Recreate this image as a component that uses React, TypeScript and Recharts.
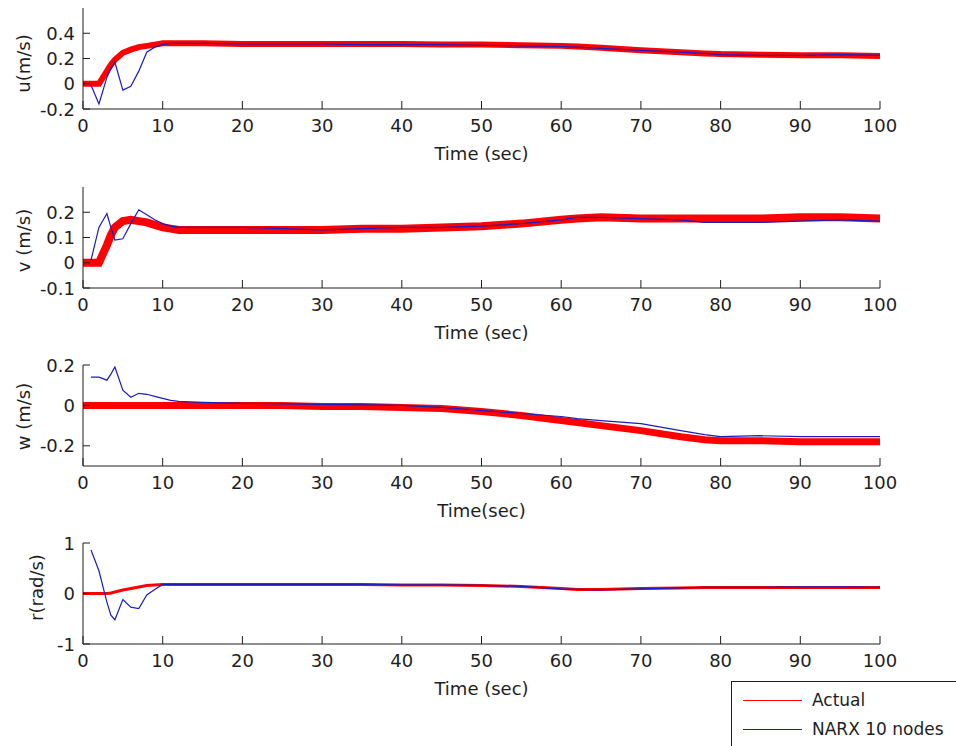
import { LineChart, Line, XAxis, YAxis, Legend, Label } from 'recharts';

// sample times (sec)
const TIME = [0, 1, 2, 3, 3.5, 4, 5, 6, 7, 8, 9, 10, 11, 12, 15, 20, 25, 30, 35, 40, 45, 50, 55, 60, 62, 65, 70, 75, 78, 80, 85, 90, 95, 100];

const U_ACTUAL = [0, 0, 0, 0.1, 0.15, 0.19, 0.245, 0.27, 0.29, 0.3, 0.31, 0.32, 0.32, 0.32, 0.32, 0.315, 0.315, 0.315, 0.315, 0.315, 0.31, 0.31, 0.305, 0.3, 0.295, 0.285, 0.265, 0.25, 0.24, 0.235, 0.23, 0.225, 0.225, 0.22];
const U_NARX = [null, -0.01, -0.16, 0.05, 0.12, 0.17, -0.05, -0.02, 0.1, 0.25, 0.29, 0.31, 0.32, 0.32, 0.32, 0.315, 0.315, 0.315, 0.31, 0.31, 0.31, 0.305, 0.3, 0.295, 0.29, 0.28, 0.265, 0.25, 0.24, 0.23, 0.225, 0.225, 0.23, 0.225];

const V_ACTUAL = [0, 0, 0, 0.07, 0.11, 0.14, 0.165, 0.17, 0.165, 0.16, 0.15, 0.14, 0.135, 0.13, 0.13, 0.13, 0.13, 0.13, 0.135, 0.135, 0.14, 0.145, 0.155, 0.17, 0.175, 0.18, 0.175, 0.175, 0.175, 0.175, 0.175, 0.18, 0.18, 0.175];
const V_NARX = [null, 0.01, 0.14, 0.195, 0.14, 0.09, 0.095, 0.155, 0.21, 0.19, 0.17, 0.155, 0.145, 0.14, 0.14, 0.14, 0.135, 0.13, 0.135, 0.14, 0.14, 0.145, 0.155, 0.17, 0.18, 0.18, 0.175, 0.17, 0.16, 0.16, 0.16, 0.165, 0.17, 0.165];

const W_ACTUAL = [0, 0, 0, 0, 0, 0, 0, 0, 0, 0, 0, 0, 0, 0, 0, 0, 0, -0.005, -0.005, -0.01, -0.015, -0.03, -0.05, -0.075, -0.085, -0.1, -0.125, -0.155, -0.17, -0.175, -0.175, -0.18, -0.18, -0.18];
const W_NARX = [null, 0.14, 0.14, 0.125, 0.155, 0.19, 0.075, 0.04, 0.06, 0.055, 0.045, 0.035, 0.025, 0.02, 0.015, 0.01, 0.008, 0.005, 0.003, 0, -0.01, -0.025, -0.04, -0.055, -0.065, -0.075, -0.09, -0.125, -0.145, -0.155, -0.15, -0.155, -0.155, -0.155];

const R_ACTUAL = [0, 0, 0, 0, 0.01, 0.03, 0.07, 0.1, 0.13, 0.16, 0.17, 0.18, 0.18, 0.18, 0.18, 0.18, 0.18, 0.18, 0.18, 0.17, 0.17, 0.16, 0.14, 0.1, 0.08, 0.08, 0.1, 0.11, 0.12, 0.12, 0.12, 0.12, 0.12, 0.12];
const R_NARX = [null, 0.86, 0.45, -0.17, -0.43, -0.52, -0.12, -0.27, -0.3, -0.03, 0.08, 0.18, 0.18, 0.18, 0.18, 0.18, 0.18, 0.18, 0.18, 0.17, 0.17, 0.16, 0.14, 0.09, 0.08, 0.07, 0.09, 0.11, 0.12, 0.12, 0.12, 0.13, 0.13, 0.12];

const X_TICKS = [0, 10, 20, 30, 40, 50, 60, 70, 80, 90, 100];
const U_TICKS = [-0.2, 0, 0.2, 0.4];
const V_TICKS = [-0.1, 0, 0.1, 0.2];
const W_TICKS = [-0.2, 0, 0.2];
const R_TICKS = [-1, 0, 1];

const FONT = '"DejaVu Sans", sans-serif';
const INK = '#1e1e1e';
const RED = '#ff0000';
const BLUE = '#1c1cc0';

const buildRows = (actual: (number | null)[], narx: (number | null)[]) =>
  TIME.map((t, i) => ({ t, actual: actual[i], narx: narx[i] }));

const XTick = (props: any) => {
  const { x, y, payload } = props;
  return (
    <g>
      <line x1={x} y1={y} x2={x} y2={y - 8} stroke={INK} strokeWidth={1} />
      <text x={x} y={y + 23} textAnchor="middle" fontFamily={FONT} fontSize={18} fill={INK}>
        {payload.value}
      </text>
    </g>
  );
};

const YTick = (props: any) => {
  const { x, y, payload } = props;
  return (
    <g>
      <line x1={x} y1={y} x2={x + 7} y2={y} stroke={INK} strokeWidth={1} />
      <text x={x - 8} y={y + 6.5} textAnchor="end" fontFamily={FONT} fontSize={18} fill={INK}>
        {payload.value}
      </text>
    </g>
  );
};

const LegendBox = ({ payload }: any) => (
  <div
    style={{
      position: 'relative',
      width: 240,
      height: 80,
      border: `1px solid ${INK}`,
      background: '#fff',
      fontFamily: FONT,
      fontSize: 17,
      color: INK,
    }}
  >
    {(payload || []).map((p: any, i: number) => (
      <div key={p.value} style={{ position: 'absolute', left: 11, top: 7 + i * 29, height: 22, display: 'flex', alignItems: 'center' }}>
        <span style={{ width: 59, height: 1, background: p.color, display: 'inline-block' }} />
        <span style={{ marginLeft: 10, whiteSpace: 'nowrap' }}>{p.value}</span>
      </div>
    ))}
  </div>
);

interface PanelProps {
  top: number;
  data: { t: number; actual: number | null; narx: number | null }[];
  domain: [number, number];
  ticks: number[];
  yLabel: string;
  yLabelGap: number;
  yLabelDy: number;
  xLabel: string;
  redWidth: number;
  extraBottom?: number;
  legend?: boolean;
}

const PLOT_H = 101;
const MARGIN_TOP = 14;

const Panel = ({ top, data, domain, ticks, yLabel, yLabelGap, yLabelDy, xLabel, redWidth, extraBottom = 0, legend }: PanelProps) => {
  const height = MARGIN_TOP + PLOT_H + 55 + extraBottom;
  return (
    <div style={{ position: 'absolute', left: 0, top: top - MARGIN_TOP }}>
      <LineChart width={956} height={height} data={data} margin={{ top: MARGIN_TOP, right: 76, left: 43, bottom: extraBottom }}>
        <XAxis
          dataKey="t"
          type="number"
          domain={[0, 100]}
          ticks={X_TICKS}
          height={55}
          tickSize={0}
          tickMargin={0}
          tickLine={false}
          tick={<XTick />}
          axisLine={{ stroke: INK }}
          interval={0}
        >
          <Label
            content={({ viewBox }: any) => (
              <text x={viewBox.x + viewBox.width / 2} y={viewBox.y + 51} textAnchor="middle" fontFamily={FONT} fontSize={18} fill={INK}>
                {xLabel}
              </text>
            )}
          />
        </XAxis>
        <YAxis
          type="number"
          domain={domain}
          ticks={ticks}
          width={40}
          tickSize={0}
          tickMargin={0}
          tickLine={false}
          tick={<YTick />}
          axisLine={{ stroke: INK }}
          allowDataOverflow
          interval={0}
        >
          <Label
            content={({ viewBox }: any) => {
              const cx = viewBox.x + viewBox.width - yLabelGap;
              const cy = viewBox.y + viewBox.height / 2 + yLabelDy;
              return (
                <text
                  x={cx}
                  y={cy}
                  transform={`rotate(-90 ${cx} ${cy})`}
                  textAnchor="middle"
                  dominantBaseline="central"
                  fontFamily={FONT}
                  fontSize={18}
                  fill={INK}
                >
                  {yLabel}
                </text>
              );
            }}
          />
        </YAxis>
        <Line type="linear" dataKey="actual" name="Actual" stroke={RED} strokeWidth={redWidth} dot={false} isAnimationActive={false} />
        <Line type="linear" dataKey="narx" name="NARX 10 nodes" stroke={BLUE} strokeWidth={1.2} dot={false} isAnimationActive={false} />
        {legend && (
          <Legend
            layout="horizontal"
            align="center"
            verticalAlign="middle"
            content={<LegendBox />}
            wrapperStyle={{ left: 731, top: 681 - (top - MARGIN_TOP), width: 240, height: 80 }}
          />
        )}
      </LineChart>
    </div>
  );
};

export default function App() {
  return (
    <div style={{ position: 'absolute', left: 0, top: 0, width: 956, height: 746, overflow: 'hidden', background: '#fff' }}>
      <Panel top={8} data={buildRows(U_ACTUAL, U_NARX)} domain={[-0.2, 0.6]} ticks={U_TICKS} yLabel="u(m/s)" yLabelGap={60} yLabelDy={5} xLabel="Time (sec)" redWidth={6} />
      <Panel top={187} data={buildRows(V_ACTUAL, V_NARX)} domain={[-0.1, 0.3]} ticks={V_TICKS} yLabel="v (m/s)" yLabelGap={60} yLabelDy={3} xLabel="Time (sec)" redWidth={8} />
      <Panel top={365} data={buildRows(W_ACTUAL, W_NARX)} domain={[-0.3, 0.2]} ticks={W_TICKS} yLabel="w (m/s)" yLabelGap={60} yLabelDy={1} xLabel="Time(sec)" redWidth={7} />
      <Panel top={543} data={buildRows(R_ACTUAL, R_NARX)} domain={[-1, 1]} ticks={R_TICKS} yLabel="r(rad/s)" yLabelGap={47} yLabelDy={-6} xLabel="Time (sec)" redWidth={3} extraBottom={47} legend />
    </div>
  );
}
